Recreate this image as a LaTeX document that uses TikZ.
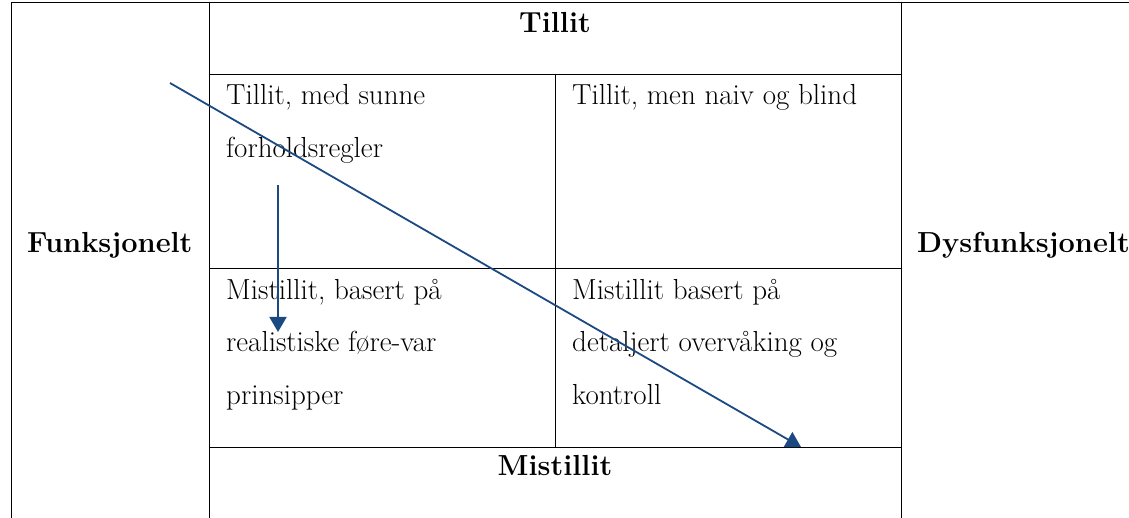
\documentclass[tikz,border=0pt]{standalone}
\usepackage{fontspec}
\usetikzlibrary{arrows.meta}
\definecolor{arrowblue}{HTML}{1B4A82}
\tikzset{
  grid/.style={draw=black, line width=1pt},
  celltext/.style={anchor=base west, inner sep=0pt, font=\fontsize{29}{34}\selectfont},
  headtext/.style={anchor=base, inner sep=0pt, font=\fontsize{29}{34}\selectfont\bfseries},
  flow/.style={draw=arrowblue, line width=1.8pt, -{Triangle[width=17pt,length=15pt]}}
}
\begin{document}
\begin{tikzpicture}[x=1pt,y=-1pt]
\useasboundingbox (0,0) rectangle (1129,518);
% grid
\draw[grid] (11,518) -- (11,3) -- (1129,3);
\draw[grid] (209,3) -- (209,518);
\draw[grid] (901,3) -- (901,518);
\draw[grid] (209,75) -- (901,75);
\draw[grid] (209,269) -- (901,269);
\draw[grid] (209,447) -- (901,447);
\draw[grid] (555,75) -- (555,447);
% headings
\node[headtext] (tillit) at (555,33) {Tillit};
\node[headtext] (mistillit) at (555,475) {Mistillit};
\node[headtext, anchor=base west] (funk) at (27,253) {Funksjonelt};
\node[headtext, anchor=base west] (dysfunk) at (917,253) {Dysfunksjonelt};
% cells
\node[celltext] (c11a) at (226,105) {Tillit, med sunne};
\node[celltext] (c11b) at (226,158) {forholdsregler};
\node[celltext] (c12a) at (572,105) {Tillit, men naiv og blind};
\node[celltext] (c21a) at (226,300) {Mistillit, basert på};
\node[celltext] (c21b) at (226,352) {realistiske føre-var};
\node[celltext] (c21c) at (226,404) {prinsipper};
\node[celltext] (c22a) at (572,300) {Mistillit basert på};
\node[celltext] (c22b) at (572,352) {detaljert overvåking og};
\node[celltext] (c22c) at (572,404) {kontroll};
% arrows
\coordinate (d1) at (170,83);
\coordinate (d2) at (801,447);
\coordinate (v1) at (278,185);
\coordinate (v2) at (278,332);
\draw[flow] (d1) -- (d2);
\draw[flow] (v1) -- (v2);
\end{tikzpicture}
\end{document}
